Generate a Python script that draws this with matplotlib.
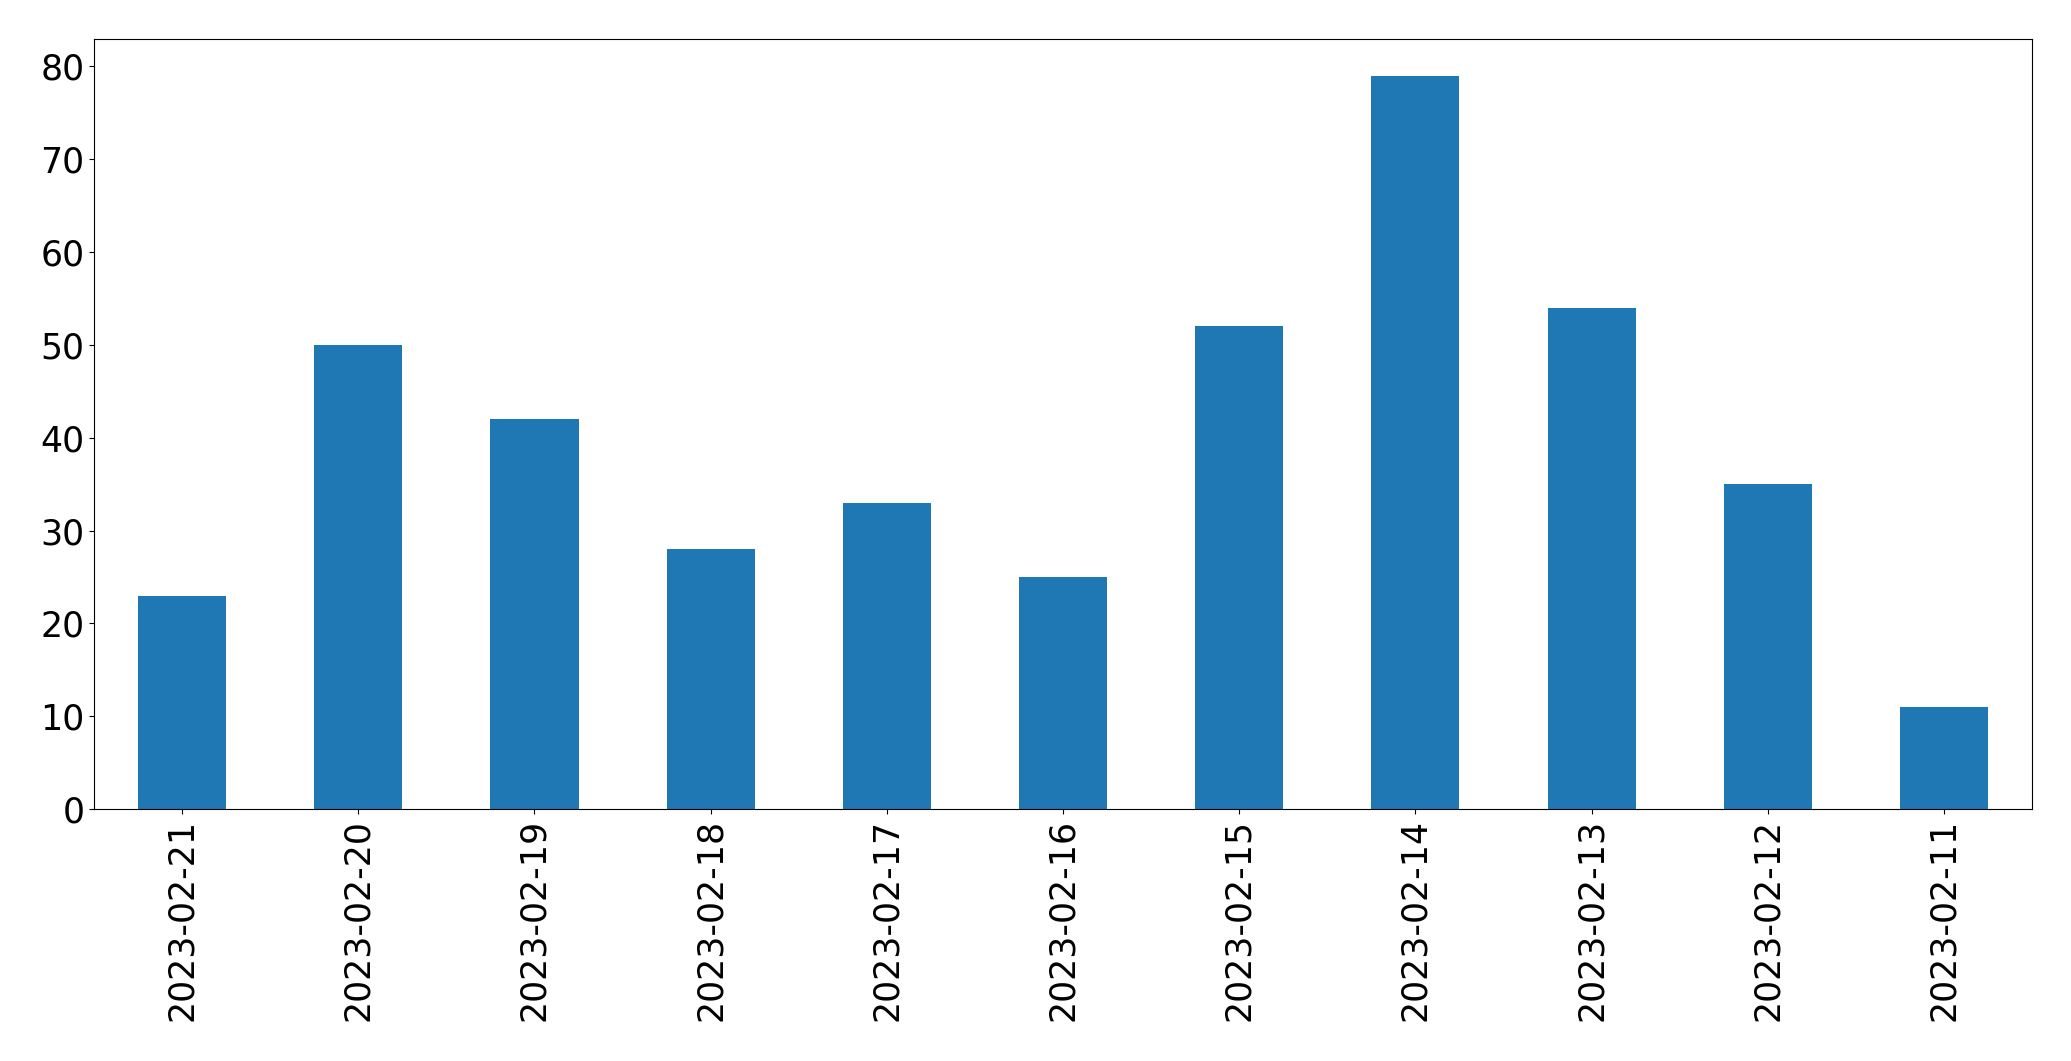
import matplotlib
matplotlib.use("Agg")
import matplotlib.pyplot as plt
import pandas as pd

dates = ["2023-02-21", "2023-02-20", "2023-02-19", "2023-02-18", "2023-02-17",
         "2023-02-16", "2023-02-15", "2023-02-14", "2023-02-13", "2023-02-12",
         "2023-02-11"]
counts = [23, 50, 42, 28, 33, 25, 52, 79, 54, 35, 11]

plt.rcParams['font.size'] = 25

s = pd.Series(counts, index=dates)

fig, ax = plt.subplots(figsize=(20.71, 10.61), dpi=100)
s.plot(kind="bar", ax=ax, color="#1f77b4")
plt.xticks(rotation=90)
fig.subplots_adjust(left=0.0454, right=0.9812, top=0.9632, bottom=0.2375)
fig.savefig("out.png", dpi=100)
